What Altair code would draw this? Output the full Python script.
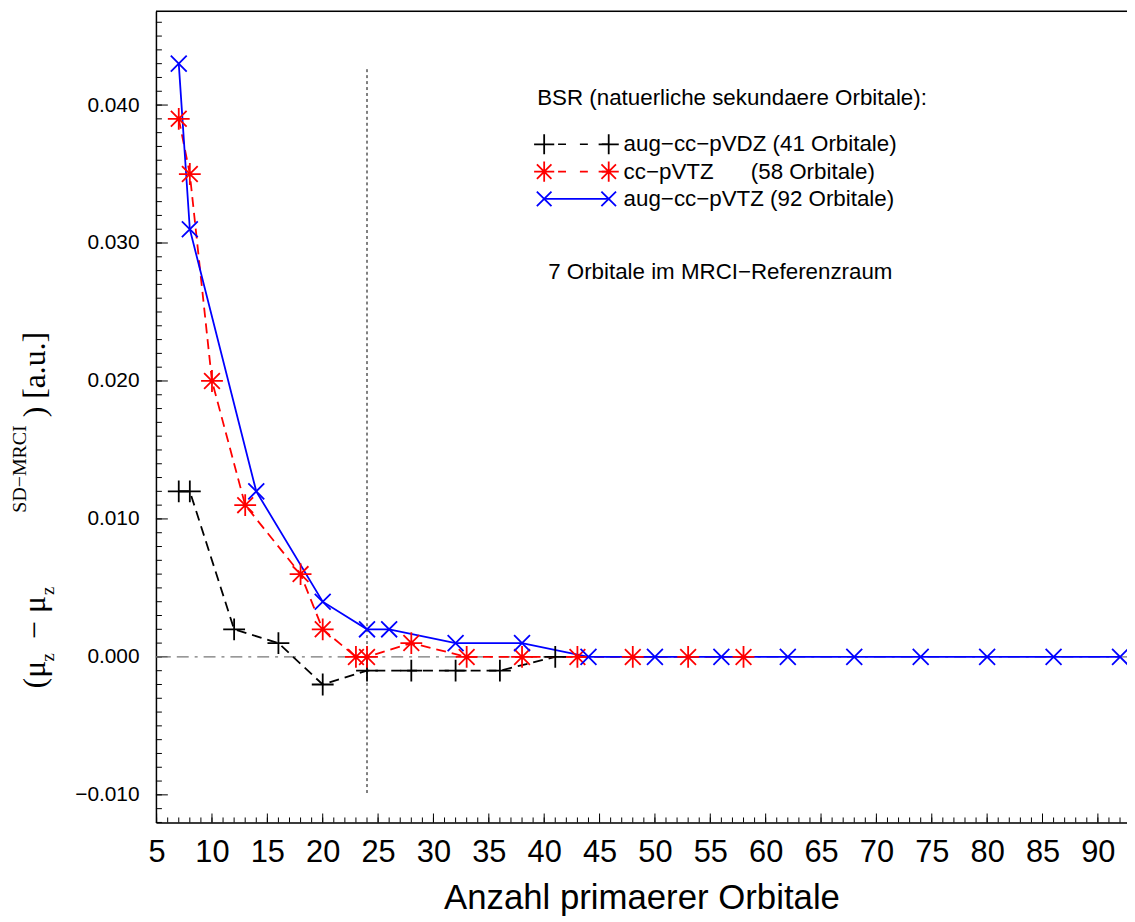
import altair as alt
import pandas as pd

# ---------------- data ----------------
vdz_x = [7, 8, 12, 16, 20, 24, 28, 32, 36, 41]
vdz_y = [0.012, 0.012, 0.002, 0.001, -0.002, -0.001, -0.001, -0.001, -0.001, 0.000]

vtz_x = [7, 8, 10, 13, 18, 20, 23, 24, 28, 33, 38, 43, 48, 53, 58]
vtz_y = [0.039, 0.035, 0.020, 0.011, 0.006, 0.002, 0.000, 0.000, 0.001, 0.000,
         0.000, 0.000, 0.000, 0.000, 0.000]

avtz_x = [7, 8, 14, 20, 24, 26, 32, 38, 44, 50, 56, 62, 68, 74, 80, 86, 92]
avtz_y = [0.043, 0.031, 0.012, 0.004, 0.002, 0.002, 0.001, 0.001, 0.000, 0.000,
          0.000, 0.000, 0.000, 0.000, 0.000, 0.000, 0.000]

series_labels = [
    "aug\u2212cc\u2212pVDZ (41 Orbitale)",
    "cc\u2212pVTZ\u00a0\u00a0\u00a0\u00a0\u00a0\u00a0(58 Orbitale)",
    "aug\u2212cc\u2212pVTZ (92 Orbitale)",
]
legend_title = "BSR (natuerliche sekundaere Orbitale):"
note_text = "7 Orbitale im MRCI\u2212Referenzraum"
x_title = "Anzahl primaerer Orbitale"

x_major = list(range(5, 91, 5))
x_minor = list(range(5, 93))
y_major = [-0.010, 0.000, 0.010, 0.020, 0.030, 0.040]
y_minor = [round(i * 0.001, 3) for i in range(-12, 47)]
ref_line_x = [24]
ref_line_y = [0.0426]
ref_line_y2 = [-0.0099]

# ---------------- styles ----------------
W, H = 978, 817
SANS = "Liberation Sans"
SERIF = "Liberation Serif"
colors = ["#000000", "#ff0000", "#0000ff"]
PLUS = "M-1,0L1,0M0,-1L0,1"
STAR = "M-1,0L1,0M0,-1L0,1M-0.72,-0.72L0.72,0.72M-0.72,0.72L0.72,-0.72"
XMARK = "M-1,-1L1,1M-1,1L1,-1"
shapes = [PLUS, STAR, XMARK]
sizes = [484, 484, 256]
dashes = [[10, 6], [10, 6], None]

xscale = alt.Scale(domain=[4.94, 92.63], nice=False, zero=False)
yscale = alt.Scale(domain=[-0.0120, 0.0468], nice=False, zero=False)

xaxis = alt.Axis(values=x_major, format="d", ticks=False, tickSize=0, grid=False,
                 labelFont=SANS, labelFontSize=31, labelColor="black",
                 labelPadding=15, labelFlush=False, labelOverlap=False,
                 domainColor="black", domainWidth=1.5,
                 titleFont=SANS, titleFontSize=35, titleFontWeight="normal",
                 titleColor="black", titlePadding=14)
yaxis = alt.Axis(values=y_major, format=".3f", ticks=False, tickSize=0, grid=False,
                 labelFont=SANS, labelFontSize=21, labelColor="black",
                 labelPadding=17, labelFlush=False, labelOverlap=False,
                 domainColor="black", domainWidth=1.5, title=None)


def X(f="x"):
    return alt.X(f"{f}:Q", scale=xscale, axis=xaxis, title=x_title)


def Y(f="y"):
    return alt.Y(f"{f}:Q", scale=yscale, axis=yaxis)


one = pd.DataFrame({"k": [0]})
layers = []

# ticks pointing inward
layers.append(alt.Chart(pd.DataFrame({"x": x_minor})).mark_rule(color="black", strokeWidth=1)
              .encode(x=X(), y=alt.value(H), y2=alt.value(H - 5)))
layers.append(alt.Chart(pd.DataFrame({"x": x_major})).mark_rule(color="black", strokeWidth=1)
              .encode(x=X(), y=alt.value(H), y2=alt.value(H - 9)))
layers.append(alt.Chart(pd.DataFrame({"y": y_minor})).mark_rule(color="black", strokeWidth=1)
              .encode(y=Y(), x=alt.value(0), x2=alt.value(6)))
layers.append(alt.Chart(pd.DataFrame({"y": y_major})).mark_rule(color="black", strokeWidth=1)
              .encode(y=Y(), x=alt.value(0), x2=alt.value(12)))
# top border
layers.append(alt.Chart(one).mark_rule(color="black", strokeWidth=1.5)
              .encode(x=alt.value(0), x2=alt.value(W), y=alt.value(0)))

# zero line and reference line
layers.append(alt.Chart(pd.DataFrame({"y": [0.0]})).mark_rule(color="#777777", strokeWidth=1.3,
                                                             strokeDash=[12, 6, 3, 6])
              .encode(y=Y()))
layers.append(alt.Chart(pd.DataFrame({"x": ref_line_x, "y": ref_line_y, "y2": ref_line_y2}))
              .mark_rule(color="black", strokeWidth=1, strokeDash=[3, 3])
              .encode(x=X(), y=Y(), y2="y2:Q"))

# series
series = [(vdz_x, vdz_y), (vtz_x, vtz_y), (avtz_x, avtz_y)]
for i, (xs, ys) in enumerate(series):
    df = pd.DataFrame({"x": xs, "y": ys})
    kw = dict(color=colors[i], strokeWidth=1.8)
    if dashes[i] is not None:
        kw["strokeDash"] = dashes[i]
    layers.append(alt.Chart(df).mark_line(**kw).encode(x=X(), y=Y()))
for i, (xs, ys) in enumerate(series):
    df = pd.DataFrame({"x": xs, "y": ys})
    layers.append(alt.Chart(df).mark_point(shape=shapes[i], size=sizes[i], filled=False,
                                           color=colors[i], strokeWidth=1.8, opacity=1)
                  .encode(x=X(), y=Y()))

# custom legend
LX0, LX1, LTX = 391, 456, 471
rows_y = [134, 161.5, 189]
LFS = 22.5
layers.append(alt.Chart(one).mark_text(text=legend_title, align="left", baseline="alphabetic",
                                       font=SANS, fontSize=LFS, color="black")
              .encode(x=alt.value(384), y=alt.value(94)))
for i, ry in enumerate(rows_y):
    kw = dict(color=colors[i], strokeWidth=1.6)
    if dashes[i] is not None:
        kw["strokeDash"] = [8, 14]
        kw["strokeDashOffset"] = -14
    layers.append(alt.Chart(one).mark_rule(**kw)
                  .encode(x=alt.value(LX0), x2=alt.value(LX1), y=alt.value(ry)))
    for px in (LX0, LX1):
        layers.append(alt.Chart(one).mark_point(shape=shapes[i], size=sizes[i] * 0.85, filled=False,
                                                color=colors[i], strokeWidth=1.8, opacity=1)
                      .encode(x=alt.value(px), y=alt.value(ry)))
    layers.append(alt.Chart(one).mark_text(text=series_labels[i], align="left", baseline="middle",
                                           font=SANS, fontSize=LFS, color="black")
                  .encode(x=alt.value(LTX), y=alt.value(ry)))
layers.append(alt.Chart(one).mark_text(text=note_text, align="left", baseline="alphabetic",
                                       font=SANS, fontSize=LFS, color="black")
              .encode(x=alt.value(395), y=alt.value(270)))

# y-axis title built from pieces (sub/superscripts)
ytitle_parts = [
    ("(\u03bc", 682, -112, 32),
    ("z", 655, -103, 19),
    ("\u2212 \u03bc", 632, -112, 32),
    ("z", 588, -103, 19),
    ("SD\u2212MRCI", 505, -131, 20),
    (") [a.u.]", 409, -112, 32),
]
for txt, py, px, fs in ytitle_parts:
    layers.append(alt.Chart(one).mark_text(text=txt, align="left", baseline="alphabetic",
                                           angle=270, font=SERIF, fontSize=fs, color="black")
                  .encode(x=alt.value(px), y=alt.value(py)))

chart = alt.layer(*layers).properties(
    width=W, height=H,
    padding={"left": 149, "top": 0, "right": 0, "bottom": 97},
    autosize=alt.AutoSizeParams(type="none"),
).configure_view(strokeWidth=0).configure(background="white")

chart.save("out.html", embed_options={"renderer": "svg", "actions": False})
